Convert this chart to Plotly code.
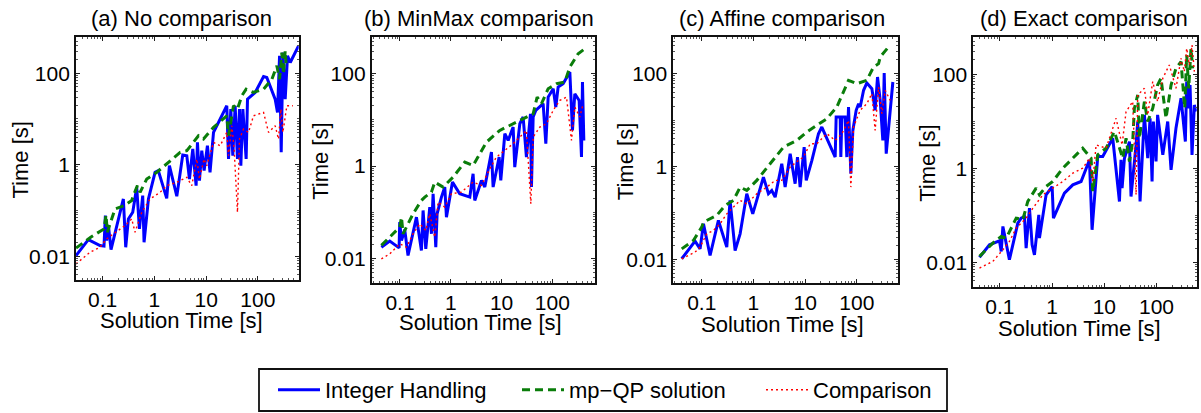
import plotly.graph_objects as go

# ---------------- data ----------------
# (a) No comparison
a_int_x = [0.0305, 0.0528, 0.0888, 0.106, 0.1127, 0.119, 0.129, 0.145, 0.251, 0.279, 0.314, 0.381, 0.455, 0.513,
           0.594, 0.631, 0.766, 1.03, 1.19, 1.73, 1.95, 2.71, 3.53, 4.23, 4.76, 5.52, 6.4, 6.8, 7.43, 8.24, 9.15,
           10.6, 11.9, 13.9, 25.1, 27.1, 30, 32.8, 36.4, 40.4, 44.2, 46.9, 51.3, 59.4, 63.1, 88.8, 129, 149, 216,
           240, 263, 283, 305, 338, 375, 423, 612]
a_int_y = [0.0103, 0.0231, 0.0171, 0.0166, 0.0771, 0.022, 0.0467, 0.014, 0.178, 0.0157, 0.0653, 0.0912, 0.32,
           0.0395, 0.211, 0.0202, 0.178, 0.68, 0.74, 0.184, 0.95, 0.204, 1.63, 1.57, 0.486, 2.2, 0.348, 3.07, 0.448,
           2.02, 0.74, 2.6, 0.68, 5.07, 19.4, 1.33, 16.4, 1.57, 19.4, 1.33, 16.4, 0.95, 16.4, 1.33, 27.1, 37.9, 84.6,
           80.4, 27.1, 13.9, 239, 1.86, 282, 27.1, 239, 171, 395]
a_mpqp_x = [0.0305, 0.0586, 0.106, 0.116, 0.123, 0.173, 0.259, 0.364, 0.393, 0.469, 0.528, 0.711, 1.11, 1.73,
            3.14, 4.23, 7.1, 8.88, 13.9, 25.1, 27.1, 33.8, 40.4, 49, 59.4, 82.4, 129, 187, 233, 263, 291, 314, 338,
            353]
a_mpqp_y = [0.015, 0.026, 0.0395, 0.0797, 0.0334, 0.108, 0.127, 0.164, 0.211, 0.348, 0.249, 0.486, 0.68, 1.03,
            1.86, 2.02, 4.29, 3.63, 6.53, 11.7, 4.29, 19.4, 16.4, 32, 44.8, 37.9, 44.8, 74, 145, 74, 282, 95, 307,
            145]
a_cmp_x = [0.0305, 0.0569, 0.0888, 0.119, 0.161, 0.271, 0.364, 0.422, 0.569, 0.824, 1.29, 1.73, 2.71, 4.23, 5.28,
           6.6, 7.43, 9.1, 10.3, 13.9, 18.7, 25.1, 27.1, 31.4, 34.8, 40.4, 44.2, 52.8, 65.9, 82.4, 129, 161, 216,
           251, 279, 305, 364, 476]
a_cmp_y = [0.0068, 0.0122, 0.0157, 0.0239, 0.0307, 0.0467, 0.0653, 0.0334, 0.0912, 0.178, 0.249, 0.348, 0.412,
           0.53, 0.348, 1.33, 0.486, 1.33, 0.95, 3.07, 2.6, 5.07, 1.57, 7.1, 2.2, 0.0912, 3.63, 6.0, 5.07, 11.7,
           13.9, 5.07, 7.1, 3.63, 16.4, 5.07, 19.4, 19.4]

# (b) MinMax comparison
b_int_x = [0.043, 0.0629, 0.096, 0.0989, 0.107, 0.124, 0.144, 0.211, 0.264, 0.285, 0.322, 0.386, 0.416, 0.449,
           0.507, 0.538, 0.655, 0.762, 0.822, 1.08, 1.5, 2.37, 2.75, 2.97, 4.02, 4.68, 6.32, 6.82, 8.96, 9.66, 11.6,
           13.5, 16.9, 18.2, 22.9, 26.6, 30.9, 37.1, 38.8, 41.9, 47.2, 56.6, 65.9, 74.4, 82.7, 104, 117, 130, 163,
           221, 249, 277, 337, 375, 392, 417]
b_int_y = [0.0177, 0.0239, 0.0171, 0.0615, 0.0247, 0.042, 0.0117, 0.0789, 0.015, 0.11, 0.0163, 0.13, 0.0344,
           0.252, 0.0177, 0.093, 0.214, 0.352, 0.0789, 0.451, 0.252, 0.214, 0.683, 0.181, 0.49, 0.352, 2.01, 0.352,
           1.57, 0.49, 5.0, 3.59, 6.97, 0.95, 8.23, 11.5, 1.57, 13.5, 0.352, 11.5, 16, 18.9, 22.3, 3.04, 31, 47,
           18.9, 51, 60.2, 108, 5.9, 36.6, 26.3, 1.57, 65.5, 3.59]
b_mpqp_x = [0.043, 0.0678, 0.0989, 0.107, 0.115, 0.181, 0.264, 0.308, 0.416, 0.484, 0.706, 1.11, 1.89, 2.75,
            5.05, 9.23, 16.9, 30.9, 41.9, 50.2, 61.1, 82.7, 121, 176, 221, 322, 436]
b_mpqp_y = [0.0193, 0.0317, 0.048, 0.0789, 0.0344, 0.093, 0.181, 0.214, 0.274, 0.451, 0.352, 0.578, 1.22, 1.03,
            3.3, 5.9, 8.23, 11.5, 13.5, 31, 22.3, 47, 60.2, 65.5, 138, 268, 344]
b_cmp_x = [0.043, 0.0629, 0.0989, 0.134, 0.181, 0.245, 0.322, 0.386, 0.484, 0.563, 0.762, 1.03, 1.62, 2.75, 4.02,
           5.86, 7.94, 10.7, 16.9, 22.9, 30.9, 37.7, 41.9, 56.6, 76.6, 104, 140, 190, 238, 277, 348, 404]
b_cmp_y = [0.0099, 0.0127, 0.0209, 0.0177, 0.0344, 0.0566, 0.0406, 0.093, 0.0292, 0.167, 0.13, 0.252, 0.274,
           0.451, 0.382, 0.875, 1.57, 2.01, 3.04, 4.24, 5.9, 0.153, 4.24, 6.97, 8.23, 16, 26.3, 31, 3.59, 18.9,
           11.5, 22.3]

# (c) Affine comparison
c_int_x = [0.041, 0.0743, 0.0929, 0.108, 0.145, 0.21, 0.305, 0.353, 0.442, 0.552, 0.743, 0.97, 1.56, 1.95, 2.26,
           2.63, 3.53, 4.1, 5.13, 6.4, 7.11, 8.0, 9.57, 10.5, 13.5, 18.1, 21, 38.1, 39.8, 47.6, 49, 51.3, 59.4, 64,
           69, 76.5, 83.7, 97, 108, 116, 135, 156, 195, 226, 251, 283, 318, 338, 370, 442, 497]
c_int_y = [0.0102, 0.0244, 0.0167, 0.0579, 0.012, 0.0684, 0.0182, 0.185, 0.0154, 0.0352, 0.257, 0.095, 0.589,
           0.257, 0.303, 0.218, 1.14, 0.358, 1.88, 0.423, 1.59, 0.358, 2.61, 0.499, 1.35, 5.07, 7.06, 1.59, 11.6,
           11.6, 1.59, 11.6, 11.6, 1.59, 19.1, 0.695, 5.98, 16.2, 22.5, 19.1, 43.7, 62.9, 47.5, 16.2, 84.7, 26.6,
           3.64, 103, 1.88, 19.1, 66]
c_mpqp_x = [0.041, 0.069, 0.1, 0.108, 0.195, 0.283, 0.41, 0.552, 0.743, 1.16, 2.1, 3.81, 6.9, 10.8, 16.8, 26.3,
            41, 69, 100, 156, 210, 263, 283, 353, 410]
c_mpqp_y = [0.0167, 0.0253, 0.0491, 0.063, 0.0876, 0.144, 0.185, 0.358, 0.303, 0.499, 1.14, 2.61, 3.64, 5.51,
            7.67, 10.7, 19.1, 71.8, 60.8, 71.8, 139, 164, 229, 319, 376]
c_cmp_x = [0.041, 0.0743, 0.0929, 0.125, 0.168, 0.226, 0.305, 0.41, 0.552, 0.743, 1.16, 1.81, 2.63, 3.53, 5.13,
           7.43, 9.29, 12.5, 16.8, 26.3, 38.1, 51.3, 69, 76.5, 86.2, 116, 156, 195, 226, 263, 305, 353, 442]
c_cmp_y = [0.0102, 0.0142, 0.0182, 0.0352, 0.0416, 0.0579, 0.095, 0.132, 0.185, 0.156, 0.257, 0.358, 0.499,
           0.499, 0.968, 1.35, 1.59, 3.08, 3.08, 5.07, 3.64, 5.07, 9.84, 0.358, 7.06, 16.2, 22.5, 37, 5.98, 51.5,
           13.7, 43.7, 26.6]

# (d) Exact comparison
d_int_x = [0.0406, 0.0631, 0.098, 0.106, 0.114, 0.128, 0.152, 0.22, 0.255, 0.295, 0.318, 0.368, 0.414, 0.459,
           0.556, 0.572, 0.767, 1.0, 1.06, 1.72, 2.49, 3.59, 5.19, 5.83, 7.48, 9.33, 14.5, 19.5, 20.9, 21.9, 24.3,
           30.3, 32.5, 40.6, 43.7, 48.4, 58.6, 67.9, 75.2, 82.2, 87.1, 97.9, 105, 132, 164, 190, 236, 295, 357,
           379, 414, 439, 479, 531, 571]
d_int_y = [0.0127, 0.0235, 0.0286, 0.017, 0.0577, 0.0286, 0.0113, 0.0679, 0.0867, 0.094, 0.02, 0.141, 0.0235,
           0.0144, 0.102, 0.0326, 0.272, 0.408, 0.0867, 0.294, 0.443, 0.521, 1.5, 0.049, 1.77, 1.77, 4.34, 0.196,
           1.5, 0.376, 1.63, 3.68, 0.25, 3.13, 9.8, 0.196, 13.6, 1.63, 11.5, 0.521, 9.8, 1.39, 13.6, 1.92, 9.8,
           0.922, 7.08, 30.7, 3.68, 69.3, 18.8, 58.9, 1.92, 22.1, 16]
d_mpqp_x = [0.0406, 0.0731, 0.106, 0.132, 0.205, 0.274, 0.342, 0.494, 0.572, 0.767, 1.03, 1.6, 2.88, 3.86, 5.58,
            6.01, 7.48, 10.8, 15.6, 19.5, 22.5, 26.1, 30.3, 35, 37.7, 43.7, 47, 58.6, 67.9, 84.6, 105, 122, 152,
            190, 236, 295, 347, 379, 414, 458, 493]
d_mpqp_y = [0.0133, 0.0255, 0.0354, 0.0326, 0.0867, 0.08, 0.196, 0.376, 0.272, 0.408, 0.521, 1.0, 1.92, 2.66,
            1.63, 0.319, 1.92, 2.66, 6.01, 2.66, 1.63, 4.34, 1.39, 3.68, 18.8, 36.1, 4.34, 26.1, 9.8, 18.8, 58.9,
            81.7, 11.5, 58.9, 133, 184, 18.8, 255, 50, 354, 133]
d_cmp_x = [0.0406, 0.0731, 0.114, 0.152, 0.205, 0.318, 0.427, 0.663, 1.03, 1.6, 2.49, 3.86, 5.19, 6.01, 6.96,
           10.8, 16.8, 21.9, 26.1, 35, 40.6, 43.7, 58.6, 67.9, 84.6, 105, 132, 176, 236, 295, 341, 379, 426, 479,
           531]
d_cmp_y = [0.0075, 0.0104, 0.0184, 0.0277, 0.0532, 0.0867, 0.141, 0.272, 0.376, 0.521, 0.783, 1.0, 1.63, 0.521,
           3.13, 2.66, 11.5, 3.13, 16, 26.1, 0.272, 36.1, 50, 13.6, 69.3, 26.1, 81.7, 157, 50, 217, 113, 354, 157,
           417, 113]

panel_titles = ["(a) No comparison", "(b) MinMax comparison", "(c) Affine comparison", "(d) Exact comparison"]
series_names = ["Integer Handling", "mp\u2212QP solution", "Comparison"]
x_tick_vals = [0.1, 1, 10, 100]
x_tick_text = ["0.1", "1", "10", "100"]
y_tick_vals = [0.01, 1, 100]
y_tick_text = ["0.01", "1", "100"]
x_axis_label = "Solution Time [s]"
y_axis_label = "Time [s]"

panels = [
    (a_int_x, a_int_y, a_mpqp_x, a_mpqp_y, a_cmp_x, a_cmp_y),
    (b_int_x, b_int_y, b_mpqp_x, b_mpqp_y, b_cmp_x, b_cmp_y),
    (c_int_x, c_int_y, c_mpqp_x, c_mpqp_y, c_cmp_x, c_cmp_y),
    (d_int_x, d_int_y, d_mpqp_x, d_mpqp_y, d_cmp_x, d_cmp_y),
]

# ---------------- layout geometry (pixels) ----------------
W, H = 1201, 413
# left, right, top, bottom of each axes box
boxes = [(76, 298.7, 37, 280), (371.7, 595, 37, 282.7), (673.3, 897.7, 37, 283.3), (973.3, 1196.7, 37, 286.7)]
x_ranges = [(-1.516, 2.79), (-1.557, 2.84), (-1.55, 2.79), (-1.51, 2.77)]
y_range = (-2.52, 2.79)
title_cx = [181.8, 479, 782, 1084]
ylab_cx = [20, 321, 625, 928]
xlab = [(181, 320), (480, 322), (782, 324), (1079, 328)]

FONT = "Liberation Sans, Arial, Helvetica, sans-serif"
BLUE = "#0000ff"
GREEN = "#0a7d0a"
RED = "#ff0000"

fig = go.Figure()
styles = [
    dict(color=BLUE, width=3),
    dict(color=GREEN, width=3, dash="8px,5px"),
    dict(color=RED, width=1.4, dash="2px,3px"),
]

for i, data in enumerate(panels):
    k = "" if i == 0 else str(i + 1)
    for s in range(3):
        fig.add_trace(go.Scatter(
            x=data[2 * s], y=data[2 * s + 1], mode="lines",
            line=styles[s], name=series_names[s],
            showlegend=(i == 0), legendgroup=series_names[s],
            xaxis="x" + k, yaxis="y" + k,
        ))

    l, r, t, b = boxes[i]
    common = dict(
        type="log", showgrid=False, zeroline=False,
        showline=True, linecolor="#111111", linewidth=1.8, mirror="ticks",
        ticks="inside", ticklen=4, tickwidth=1, tickcolor="#222222",
        minor=dict(ticks="inside", ticklen=2, tickcolor="#555555", dtick="D1", showgrid=False),
        tickfont=dict(family=FONT, size=21, color="black"),
    )
    fig.update_layout({
        "xaxis" + k: dict(common, domain=[l / W, r / W], range=list(x_ranges[i]),
                          anchor="y" + k, tickvals=x_tick_vals, ticktext=x_tick_text),
        "yaxis" + k: dict(common, domain=[1 - b / H, 1 - t / H], range=list(y_range),
                          anchor="x" + k, tickvals=y_tick_vals, ticktext=y_tick_text),
    })

    fig.add_annotation(text=panel_titles[i], x=title_cx[i] / W, y=1 - 18 / H, xref="paper", yref="paper",
                       showarrow=False, xanchor="center", yanchor="middle",
                       font=dict(family=FONT, size=22, color="black"))
    fig.add_annotation(text=y_axis_label, x=ylab_cx[i] / W, y=1 - ((t + b) / 2 + 2) / H, xref="paper",
                       yref="paper", showarrow=False, textangle=-90, xanchor="center", yanchor="middle",
                       font=dict(family=FONT, size=22, color="black"))
    fig.add_annotation(text=x_axis_label, x=xlab[i][0] / W, y=1 - xlab[i][1] / H, xref="paper", yref="paper",
                       showarrow=False, xanchor="center", yanchor="middle",
                       font=dict(family=FONT, size=22, color="black"))

# legend frame
fig.add_shape(type="rect", xref="paper", yref="paper", x0=259 / W, x1=947 / W, y0=1 - 411 / H, y1=1 - 369 / H,
              line=dict(color="#111111", width=1.8), fillcolor="rgba(0,0,0,0)")

fig.update_layout(
    width=W, height=H, margin=dict(l=0, r=0, t=0, b=0),
    paper_bgcolor="white", plot_bgcolor="white",
    font=dict(family=FONT, color="black"),
    showlegend=True,
    legend=dict(orientation="h", x=273 / W, y=1 - 390 / H, xanchor="left", yanchor="middle",
                bgcolor="rgba(0,0,0,0)", borderwidth=0,
                font=dict(family=FONT, size=22, color="black"),
                entrywidth=187, entrywidthmode="pixels", itemwidth=42),
)

fig.write_html("out.html")
